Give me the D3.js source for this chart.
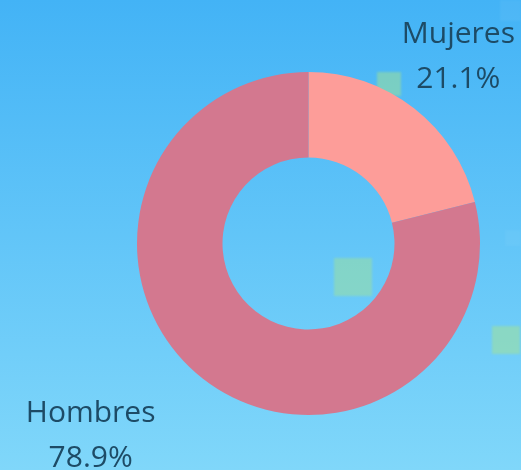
<!DOCTYPE html>
<html>
<head>
<meta charset="utf-8">
<script src="https://cdn.jsdelivr.net/npm/d3@7"></script>
<style>
  html, body { margin: 0; padding: 0; overflow: hidden; }
  svg { display: block; }
</style>
</head>
<body>
<svg id="chart" width="521" height="470"></svg>
<script>
// Data
const labels = ["Mujeres", "Hombres"];
const values = [21.1, 78.9];
const sliceColors = ["#fd9d99", "#d3788f"];

// Layout
const width = 521, height = 470;
const cx = 308.5, cy = 243.5;
const outerR = 171.5, innerR = 86;
// label nudges relative to the label-arc centroid
const labelArcR = 250;
const labelNudge = [[-4, 7.5], [-64, -7.5]];

const svg = d3.select("#chart");

// Background gradient
const defs = svg.append("defs");
const grad = defs.append("linearGradient")
    .attr("id", "bg")
    .attr("x1", 0).attr("y1", 0).attr("x2", 0).attr("y2", 1);
grad.append("stop").attr("offset", "0%").attr("stop-color", "#43b3f6");
grad.append("stop").attr("offset", "100%").attr("stop-color", "#80d7fa");

svg.append("rect")
    .attr("width", width)
    .attr("height", height)
    .attr("fill", "url(#bg)");

// faint decorative squares behind the chart
defs.append("filter")
    .attr("id", "soft")
    .append("feGaussianBlur")
    .attr("stdDeviation", 1.2);

const deco = [
    { x: 377, y: 72, s: 24, c: "#a6e48f", o: 0.5 },
    { x: 334, y: 258, s: 38, c: "#a6e48f", o: 0.45 },
    { x: 492, y: 326, s: 28, c: "#a6e48f", o: 0.5 },
    { x: 500, y: 0, s: 21, c: "#ffffff", o: 0.05 },
    { x: 505, y: 230, s: 16, c: "#ffffff", o: 0.04 }
];
svg.append("g")
    .attr("filter", "url(#soft)")
    .selectAll("rect")
    .data(deco)
    .join("rect")
    .attr("x", d => d.x)
    .attr("y", d => d.y)
    .attr("width", d => d.s)
    .attr("height", d => d.s)
    .attr("fill", d => d.c)
    .attr("opacity", d => d.o);

const data = labels.map((name, i) => ({ name, value: values[i], color: sliceColors[i] }));

const pie = d3.pie()
    .sort(null)
    .value(d => d.value);

const arc = d3.arc()
    .innerRadius(innerR)
    .outerRadius(outerR);

const labelArc = d3.arc()
    .innerRadius(labelArcR)
    .outerRadius(labelArcR);

const arcs = pie(data);

const g = svg.append("g")
    .attr("transform", `translate(${cx},${cy})`);

g.selectAll("path")
    .data(arcs)
    .join("path")
    .attr("d", arc)
    .attr("fill", d => d.data.color);

// Labels
const lbl = g.selectAll("text.lbl")
    .data(arcs)
    .join("text")
    .attr("class", "lbl")
    .attr("transform", (d, i) => {
        const [x, y] = labelArc.centroid(d);
        return `translate(${x + labelNudge[i][0]},${y + labelNudge[i][1]})`;
    })
    .attr("text-anchor", "middle")
    .style("font-family", "'Open Sans', sans-serif")
    .style("font-size", "30px")
    .style("fill", "#1d4b66");

lbl.append("tspan")
    .attr("x", 0)
    .attr("y", -11)
    .text(d => d.data.name);

lbl.append("tspan")
    .attr("x", 0)
    .attr("y", 34)
    .text(d => d.data.value.toFixed(1) + "%");
</script>
</body>
</html>
